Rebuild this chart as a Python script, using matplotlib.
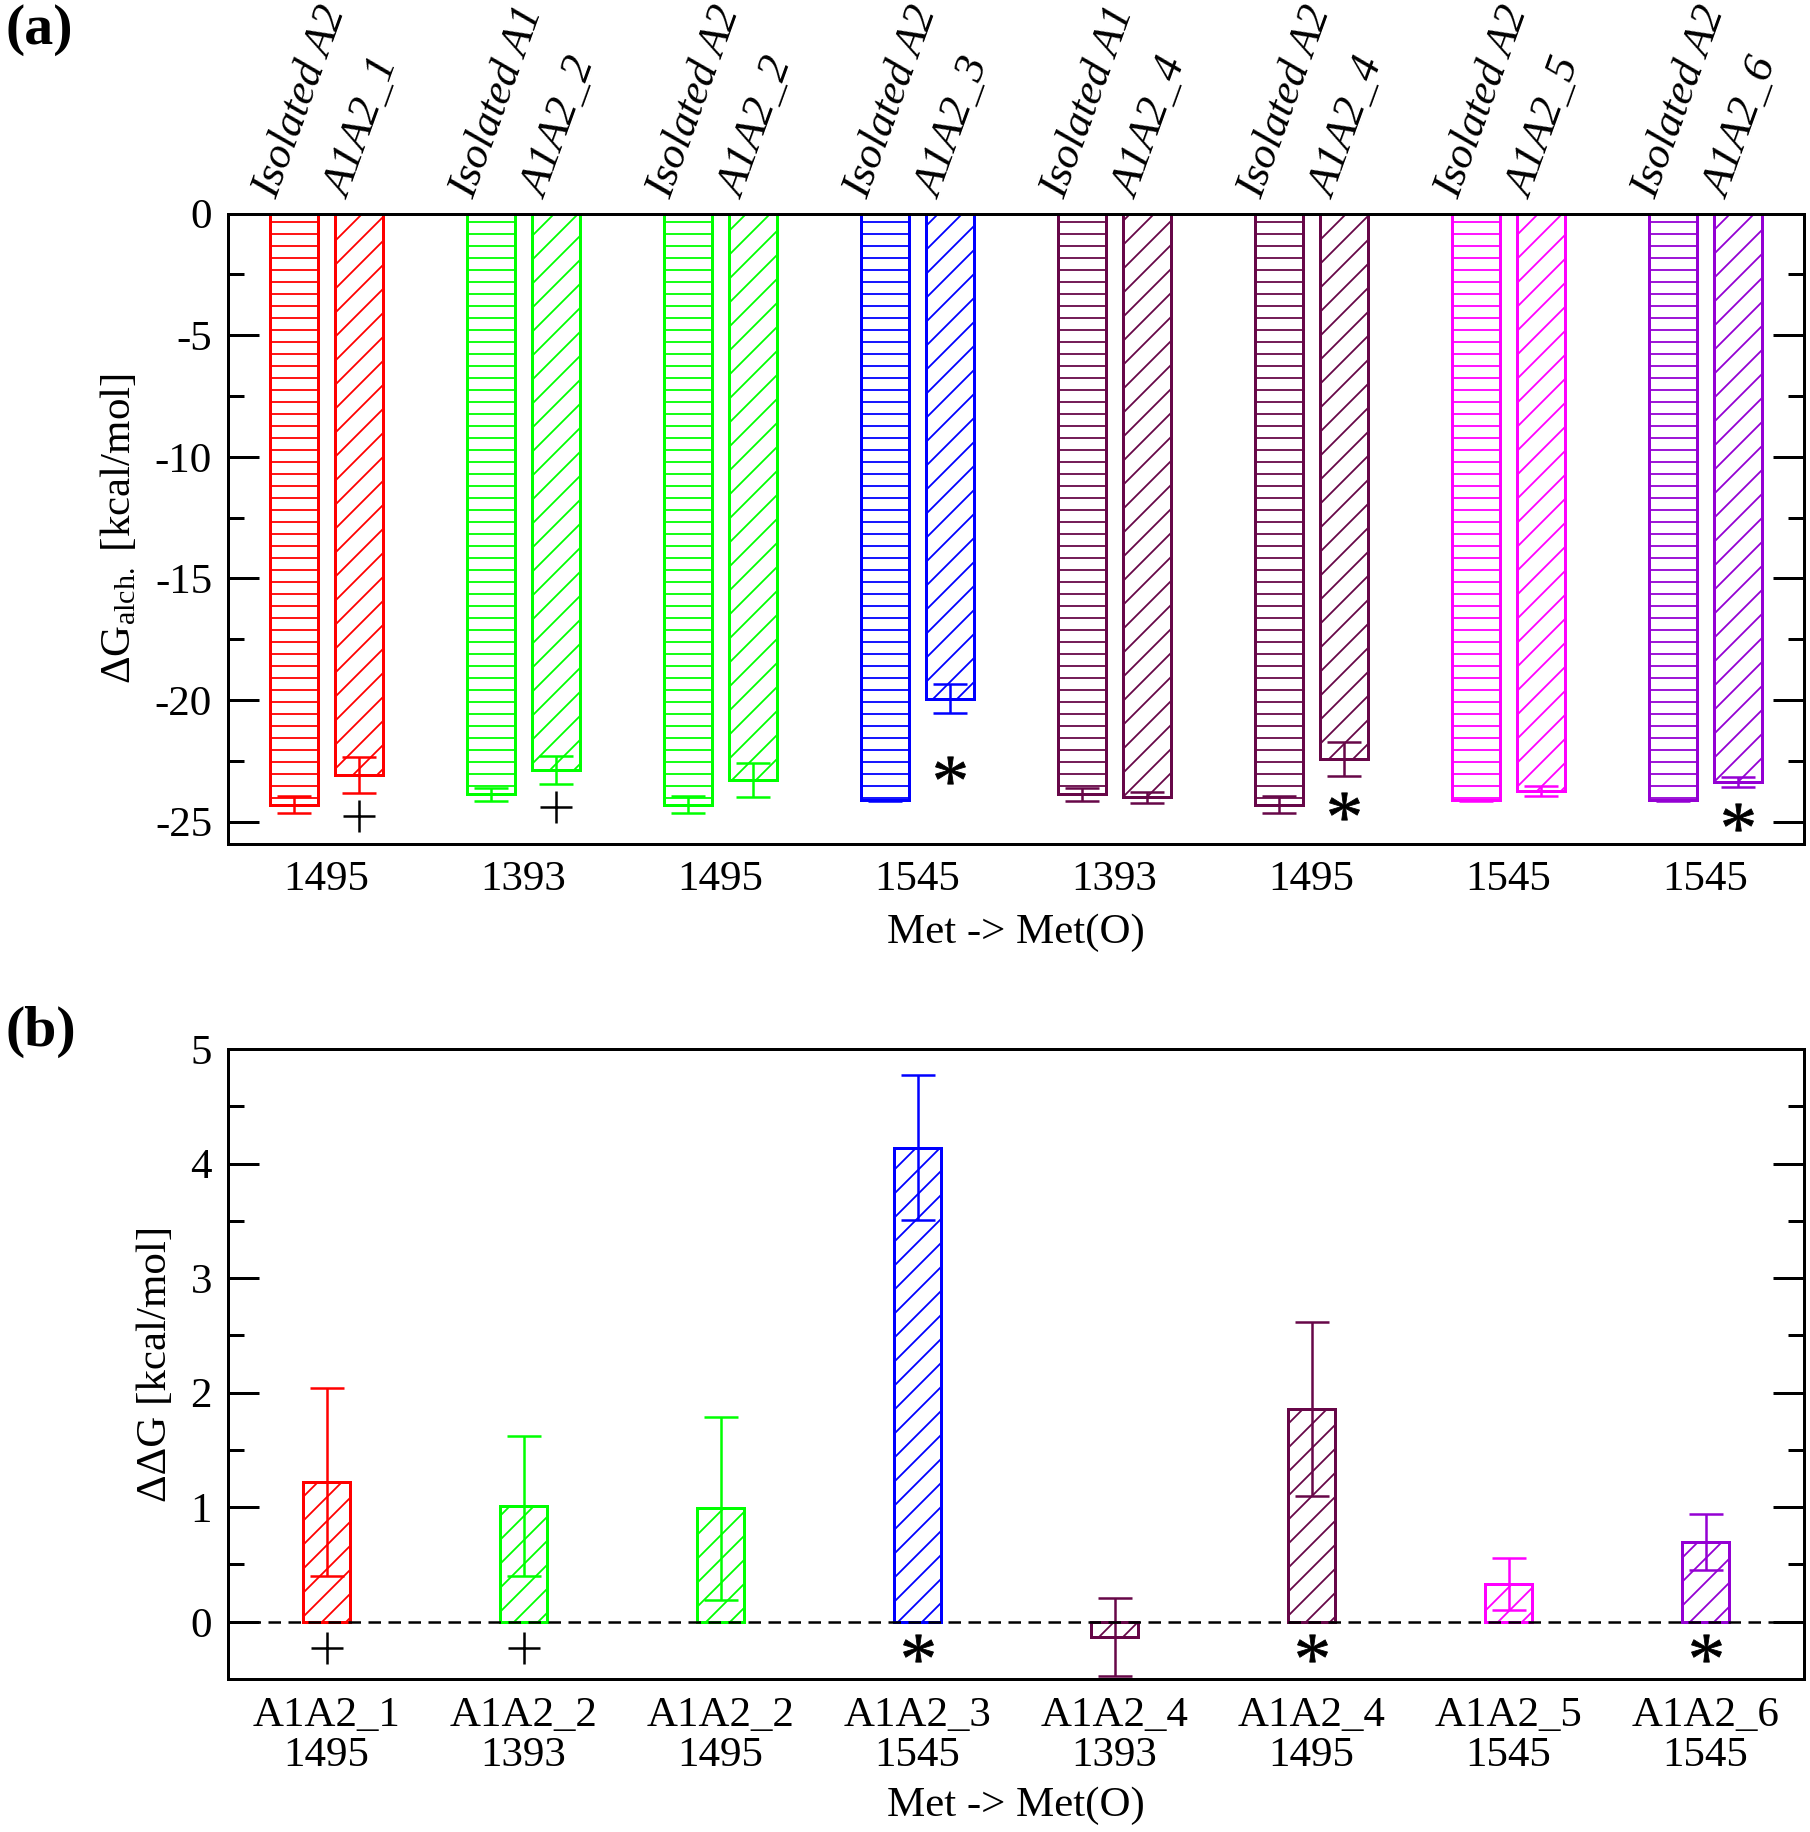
import numpy as np
import matplotlib
matplotlib.use("Agg")
import matplotlib.pyplot as plt

# ---- datos ----
residuos = ['1495', '1393', '1495', '1545', '1393', '1495', '1545', '1545']
aislados = ['Isolated A2', 'Isolated A1', 'Isolated A2', 'Isolated A2',
            'Isolated A1', 'Isolated A2', 'Isolated A2', 'Isolated A2']
dimeros = ['A1A2_1', 'A1A2_2', 'A1A2_2', 'A1A2_3',
           'A1A2_4', 'A1A2_4', 'A1A2_5', 'A1A2_6']
colores = ['#ff0000', '#00ff00', '#00ff00', '#0000ff',
           '#670748', '#670748', '#ff00ff', '#9400d3']

# panel (a): dG alquimico
dg_aislado = [-24.30, -23.87, -24.30, -24.12, -23.87, -24.30, -24.12, -24.12]
err_aislado = [0.36, 0.27, 0.36, 0.03, 0.27, 0.36, 0.03, 0.03]
dg_dimero = [-23.07, -22.87, -23.30, -19.94, -24.00, -22.41, -23.75, -23.37]
err_dimero = [0.75, 0.56, 0.70, 0.61, 0.24, 0.69, 0.20, 0.22]
signos = ['+', '+', '', '*', '', '*', '', '*']
y_signos_a = [-24.75, -24.38, 0, -22.87, 0, -24.35, 0, -24.82]

# panel (b): ddG
ddg = [1.22, 1.01, 0.99, 4.14, -0.13, 1.86, 0.33, 0.70]
err_ddg = [0.82, 0.61, 0.80, 0.63, 0.34, 0.76, 0.23, 0.245]
y_signos_b = -0.23

# ---- estilo ----
plt.rcParams['font.family'] = ['Liberation Serif', 'DejaVu Serif']
plt.rcParams['mathtext.fontset'] = 'custom'
plt.rcParams['mathtext.rm'] = 'Liberation Serif'
plt.rcParams['mathtext.it'] = 'Liberation Serif:italic'
plt.rcParams['hatch.linewidth'] = 1.8
fs = 43

fig = plt.figure(figsize=(1810/72, 1832/72), dpi=72)
ax1 = fig.add_axes([0.126, 0.5395, 0.8707, 0.3439])
ax2 = fig.add_axes([0.126, 0.0835, 0.8707, 0.3439])

x = np.arange(1, 9)
ancho = 0.24
desp = 0.165


def estilo_ejes(ax, mayor, menor):
    for s in ax.spines.values():
        s.set_linewidth(3)
    ax.set_yticks(mayor)
    ax.set_yticks(menor, minor=True)
    ax.tick_params(axis='y', which='major', direction='in', length=31, width=3,
                   labelsize=fs, pad=16, right=True)
    ax.tick_params(axis='y', which='minor', direction='in', length=16, width=3,
                   right=True)
    ax.tick_params(axis='x', length=0, labelsize=fs, pad=17)
    ax.set_xlim(0.5, 8.5)


def marca(ax, xm, ym, s):
    if s == '+':
        ax.plot(xm, ym, marker='+', ms=32, mew=2.5, color='k')
    elif s == '*':
        ax.plot(xm, ym, marker='$*$', ms=30, mew=0.8, color='k')


# ---- panel (a) ----
for i in range(8):
    ax1.bar(x[i] - desp, dg_aislado[i], ancho, facecolor='none',
            edgecolor=colores[i], hatch='-', linewidth=3)
    ax1.bar(x[i] + desp, dg_dimero[i], ancho, facecolor='none',
            edgecolor=colores[i], hatch='/', linewidth=3)
    ax1.errorbar(x[i] - desp, dg_aislado[i], yerr=err_aislado[i], fmt='none',
                 ecolor=colores[i], elinewidth=2.5, capsize=17, capthick=2.5)
    ax1.errorbar(x[i] + desp, dg_dimero[i], yerr=err_dimero[i], fmt='none',
                 ecolor=colores[i], elinewidth=2.5, capsize=17, capthick=2.5)
    marca(ax1, x[i] + desp, y_signos_a[i], signos[i])
    # etiquetas superiores
    ax1.text(x[i] - desp - 0.09, 1.022, aislados[i], transform=ax1.get_xaxis_transform(),
             rotation=70, rotation_mode='anchor', ha='left', va='baseline',
             fontsize=44, style='italic')
    ax1.text(x[i] + desp - 0.05, 1.022, dimeros[i], transform=ax1.get_xaxis_transform(),
             rotation=70, rotation_mode='anchor', ha='left', va='baseline',
             fontsize=45, style='italic')

ax1.set_ylim(-25.9, 0)
estilo_ejes(ax1, [0, -5, -10, -15, -20, -25], [-2.5, -7.5, -12.5, -17.5, -22.5])
ax1.set_xticks(x)
ax1.set_xticklabels(residuos)
ax1.set_yticklabels(['0', '-5', '-10', '-15', '-20', '-25'])
ax1.set_xlabel('Met -> Met(O)', fontsize=fs, labelpad=14)
ax1.set_ylabel(r'ΔG$_{\mathrm{alch.}}$ [kcal/mol]', fontsize=fs, labelpad=16)

# ---- panel (b) ----
for i in range(8):
    ax2.bar(x[i], ddg[i], ancho, facecolor='none', edgecolor=colores[i],
            hatch='/', linewidth=3)
    ax2.errorbar(x[i], ddg[i], yerr=err_ddg[i], fmt='none', ecolor=colores[i],
                 elinewidth=2.5, capsize=17, capthick=2.5)
    marca(ax2, x[i], y_signos_b, signos[i])

ax2.axhline(0, color='k', linewidth=2.5, linestyle=(0, (5, 3)), zorder=5)
ax2.set_ylim(-0.5, 5)
estilo_ejes(ax2, [0, 1, 2, 3, 4, 5], [0.5, 1.5, 2.5, 3.5, 4.5])
ax2.set_xticks(x)
ax2.set_xticklabels([d + '\n' + r for d, r in zip(dimeros, residuos)],
                    linespacing=1.05)
ax2.set_xlabel('Met -> Met(O)', fontsize=fs, labelpad=12)
ax2.set_ylabel('ΔΔG [kcal/mol]', fontsize=fs, labelpad=16)

fig.text(0.003, 1 - 4/1832, '(a)', fontsize=58, fontweight='bold', va='top', ha='left')
fig.text(0.003, 1 - 1006/1832, '(b)', fontsize=58, fontweight='bold', va='top', ha='left')

fig.savefig('out.png', dpi=72)
